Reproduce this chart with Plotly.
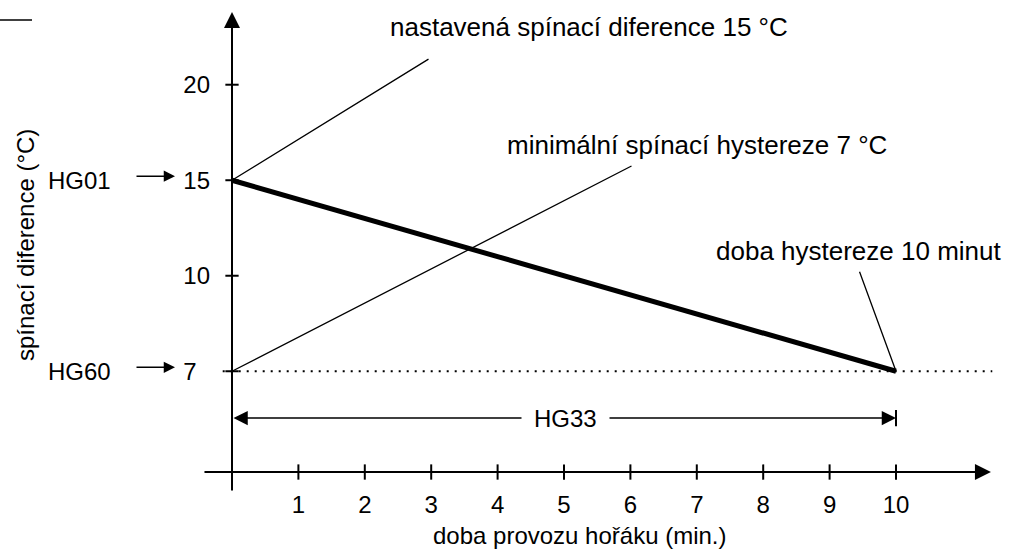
import plotly.graph_objects as go

# Doba provozu hořáku (min.) – popsané značky časové osy
time_ticks = [1, 2, 3, 4, 5, 6, 7, 8, 9, 10]
# Úrovně spínací diference (°C) na svislé ose
diff_levels = ["7", "10", "15", "20"]

# Parametry regulace
hg01_diff = "15"   # nastavená spínací diference
hg60_diff = "7"    # minimální spínací hystereze
hg33_time = 10     # doba hystereze (min.)

# Pokles spínací diference během doby hystereze
ramp_time = [0, hg33_time]
ramp_diff = [hg01_diff, hg60_diff]

# Popisky
label_set = "nastavená spínací diference 15 °C"
label_min = "minimální spínací hystereze 7 °C"
label_time = "doba hystereze 10 minut"
x_title = "doba provozu hořáku (min.)"
y_title = "spínací diference (°C)"

lvl = {v: i for i, v in enumerate(diff_levels)}

W, H = 1011, 549
FONT = "Liberation Sans, Arial, Helvetica, sans-serif"
FS = 24      # popisky os a značek
FS_CALL = 26 # odkazové popisky
BLACK = "#000000"

X_RANGE = [-3.494, 11.732]
Y_RANGE = [-1.861, 3.887]

X_AXIS_LEVEL = -1.055   # poloha vodorovné osy (jednotky svislé osy)
HG33_LEVEL = -0.49      # poloha kóty HG33


def paper_x(v):
    return (v - X_RANGE[0]) / (X_RANGE[1] - X_RANGE[0])


def paper_y(v):
    return (v - Y_RANGE[0]) / (Y_RANGE[1] - Y_RANGE[0])


def px_text(px, py, text, size=FS, **kw):
    """Text umístěný v pixelech od levého horního rohu."""
    d = dict(x=px / W, y=1 - py / H, xref="paper", yref="paper", text=text,
             showarrow=False, xanchor="center", yanchor="middle",
             font=dict(size=size))
    d.update(kw)
    return d


fig = go.Figure()

# spínací diference v čase
fig.add_trace(go.Scatter(
    x=ramp_time, y=ramp_diff, mode="lines",
    line=dict(color=BLACK, width=5), hoverinfo="skip", showlegend=False,
))

# minimální hystereze – tečkovaná vodorovná čára
fig.add_trace(go.Scatter(
    x=[-0.14, 11.45], y=[hg60_diff, hg60_diff], mode="lines",
    line=dict(color=BLACK, width=2, dash="2px,6px"),
    hoverinfo="skip", showlegend=False,
))

shapes = []
# značky na časové ose (přes osu)
for t in time_ticks:
    shapes.append(dict(type="line", xref="x", yref="y", x0=t, x1=t,
                       y0=X_AXIS_LEVEL - 0.08, y1=X_AXIS_LEVEL + 0.08,
                       line=dict(color=BLACK, width=2)))
# značky na svislé ose
for v in diff_levels:
    shapes.append(dict(type="line", xref="x", yref="y", x0=-0.1, x1=0.1,
                       y0=lvl[v], y1=lvl[v], line=dict(color=BLACK, width=2)))
# koncová svislá značka kóty HG33
shapes.append(dict(type="line", xref="x", yref="y", x0=hg33_time, x1=hg33_time,
                   y0=HG33_LEVEL - 0.085, y1=HG33_LEVEL + 0.085,
                   line=dict(color=BLACK, width=2)))
# krátká čára v levém horním rohu
shapes.append(dict(type="line", xref="paper", yref="paper",
                   x0=0, x1=32 / W, y0=1 - 20 / H, y1=1 - 20 / H,
                   line=dict(color=BLACK, width=1.5)))

ann = []
# šipky os
ann.append(dict(x=11.43, y=X_AXIS_LEVEL, ax=-0.437, ay=X_AXIS_LEVEL,
                xref="x", yref="y", axref="x", ayref="y", text="",
                showarrow=True, arrowhead=2, arrowwidth=2, arrowsize=1.6,
                arrowcolor=BLACK))
ann.append(dict(x=0, y=3.762, ax=0, ay=-1.264,
                xref="x", yref="y", axref="x", ayref="y", text="",
                showarrow=True, arrowhead=2, arrowwidth=2, arrowsize=1.6,
                arrowcolor=BLACK))
# kóta HG33
ann.append(dict(x=hg33_time, y=HG33_LEVEL, ax=0, ay=HG33_LEVEL,
                xref="x", yref="y", axref="x", ayref="y", text="",
                showarrow=True, arrowhead=2, startarrowhead=2,
                arrowside="end+start", arrowwidth=1.5, arrowsize=1.9,
                startarrowsize=1.9, arrowcolor=BLACK))
ann.append(dict(x=hg33_time / 2 + 0.03, y=HG33_LEVEL, xref="x", yref="y",
                text="HG33", showarrow=False, bgcolor="white", borderpad=12,
                xanchor="center", yanchor="middle", font=dict(size=FS)))
# HG01 a HG60 u svislé osy
for name, v in (("HG01", hg01_diff), ("HG60", hg60_diff)):
    ann.append(dict(x=113 / W, y=lvl[v], xref="paper", yref="y",
                    text=name, showarrow=False, xanchor="right",
                    yanchor="middle", font=dict(size=FS)))
    ann.append(dict(x=175 / W, y=lvl[v], xref="paper", yref="y", yshift=4,
                    ax=-40, ay=0, text="", showarrow=True, arrowhead=2,
                    arrowwidth=1.5, arrowsize=1.5, arrowcolor=BLACK))
# odkazové čáry a popisky
ann.append(dict(x=0, y=lvl[hg01_diff], xref="x", yref="y", ax=198, ay=-122,
                text="", showarrow=True, arrowhead=0, arrowwidth=1.3,
                arrowcolor=BLACK))
ann.append(dict(x=0, y=lvl[hg60_diff], xref="x", yref="y", ax=401, ay=-206,
                text="", showarrow=True, arrowhead=0, arrowwidth=1.3,
                arrowcolor=BLACK))
ann.append(dict(x=hg33_time, y=lvl[hg60_diff], xref="x", yref="y", ax=-37,
                ay=-101, text="", showarrow=True, arrowhead=0, arrowwidth=1.3,
                arrowcolor=BLACK))
ann.append(px_text(589, 27, label_set, FS_CALL))
ann.append(px_text(697, 145, label_min, FS_CALL))
ann.append(px_text(1004, 251, label_time, FS_CALL, xanchor="right"))
# názvy os
ann.append(px_text(579, 535, x_title))
ann.append(px_text(25, 245, y_title, textangle=-90))

fig.update_layout(
    width=W, height=H,
    margin=dict(l=0, r=0, t=0, b=0),
    paper_bgcolor="white", plot_bgcolor="white",
    font=dict(family=FONT, size=FS, color=BLACK),
    showlegend=False,
    shapes=shapes,
    annotations=ann,
    xaxis=dict(
        range=X_RANGE, anchor="free", position=paper_y(X_AXIS_LEVEL),
        tickvals=time_ticks, ticks="", ticklabelstandoff=16,
        showline=False, showgrid=False, zeroline=False, fixedrange=True,
        tickfont=dict(size=FS),
    ),
    yaxis=dict(
        type="category", categoryorder="array", categoryarray=diff_levels,
        tickvals=diff_levels,
        ticktext=[v if len(v) > 1 else v + "\u2007" for v in diff_levels],
        range=Y_RANGE, anchor="free", position=paper_x(0),
        ticks="", ticklabelstandoff=22,
        showline=False, showgrid=False, zeroline=False, fixedrange=True,
        tickfont=dict(size=FS),
    ),
)

fig.write_html("out.html", config=dict(displayModeBar=False))
